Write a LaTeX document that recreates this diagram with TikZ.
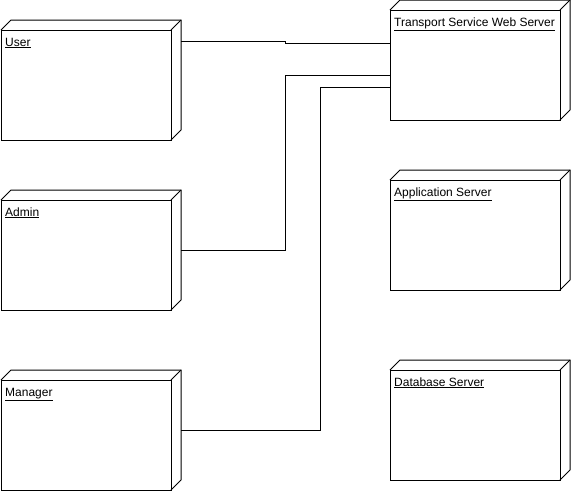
\documentclass[tikz,border=0pt]{standalone}
\usepackage{fontspec}
\setmainfont{Liberation Sans}
\usetikzlibrary{calc}
\tikzset{
  depline/.style={draw=black, line width=1pt, line join=miter},
  depfront/.style={depline, rectangle, minimum width=170pt, minimum height=110pt,
    inner sep=0pt, outer sep=0pt, anchor=north west},
  deplabel/.style={anchor=base west, inner sep=0pt, font=\fontsize{12}{14}\selectfont},
  wire/.style={draw=black, line width=1pt}
}
% A UML deployment node: front face, top face and right side face
\newcommand\depbox[4]{%
  \node[depfront] (#1) at (#2,#3) {};
  \draw[depline] (#1.north west) -- ++(10,-10) -- ++(170,0) -- ++(0,110) -- (#1.south east);
  \draw[depline] (#1.north east) -- ++(10,-10);
  \node[deplabel] (#1-label) at ($(#1.north west)+(4,16)$) {\underline{#4}};
}
\begin{document}
\begin{tikzpicture}[x=1pt,y=-1pt]
  \useasboundingbox (0,0) rectangle (571,491);

  \depbox{user}{1}{30}{User}
  \depbox{admin}{1}{200}{Admin}
  \depbox{manager}{1}{380}{Manager}

  \depbox{web}{390}{10}{Transport Service Web Server}
  \depbox{app}{390}{180}{Application Server}
  \depbox{db}{390}{370}{Database Server}

  % client connections to the web server
  \coordinate (u-out) at ($(user.north east)+(10,11)$);
  \coordinate (a-out) at ($(admin.north east)+(10,50)$);
  \coordinate (m-out) at ($(manager.north east)+(10,50)$);
  \coordinate (w-in1) at ($(web.north west)+(0,33)$);
  \coordinate (w-in2) at ($(web.north west)+(0,65)$);
  \coordinate (w-in3) at ($(web.north west)+(0,77)$);

  \draw[wire] (u-out) -- ++(104,0) |- (w-in1);
  \draw[wire] (a-out) -- ++(104,0) |- (w-in2);
  \draw[wire] (m-out) -- ++(139,0) |- (w-in3);
\end{tikzpicture}
\end{document}
